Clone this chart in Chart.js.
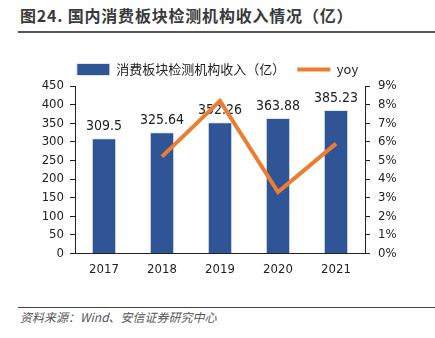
<!DOCTYPE html>
<html lang="zh">
<head>
<meta charset="UTF-8">
<title>国内消费板块检测机构收入情况</title>
<style>
  body { margin: 0; width: 435px; height: 338px; background: #fff; font-family: "Noto Sans CJK SC", "DejaVu Sans", sans-serif; position: relative; overflow: hidden; }
  .title { position: absolute; left: 20px; top: 3px; font-size: 16px; font-weight: bold; color: #3a3a3a; letter-spacing: 0.8px; }
  .rule-top { position: absolute; left: 18px; right: 0; top: 31px; border-top: 2px solid #555; }
  .chart-box { position: absolute; left: 0; top: 51px; width: 435px; height: 226px; }
  .rule-bottom { position: absolute; left: 18px; right: 0; top: 307px; border-top: 1px solid #444; }
  .source { position: absolute; left: 20px; top: 308px; font-size: 12px; font-style: italic; color: #555; }
</style>
<script src="https://cdn.jsdelivr.net/npm/chart.js@4"></script>
</head>
<body>
<div class="title">图24. 国内消费板块检测机构收入情况（亿）</div>
<div class="rule-top"></div>
<div class="chart-box"><canvas id="grafica"></canvas></div>
<div class="rule-bottom"></div>
<div class="source">资料来源：Wind、安信证券研究中心</div>
<script>
const years = ['2017', '2018', '2019', '2020', '2021'];
const revenue = [309.5, 325.64, 352.26, 363.88, 385.23];
const revenueLabels = ['309.5', '325.64', '352.26', '363.88', '385.23'];
const yoy = [null, 5.2, 8.2, 3.3, 5.9];

const tickFont = { family: '"DejaVu Sans Condensed", "DejaVu Sans", sans-serif', size: 13 };

const barLabels = {
  id: 'barLabels',
  afterDatasetDraw(chart, args) {
    if (args.index !== 0) return;
    const ctx = chart.ctx;
    ctx.save();
    ctx.font = '14px "DejaVu Sans Condensed", "DejaVu Sans", sans-serif';
    ctx.fillStyle = '#222';
    ctx.textAlign = 'center';
    ctx.textBaseline = 'bottom';
    args.meta.data.forEach((bar, i) => {
      ctx.fillText(revenueLabels[i], bar.x, bar.y - 5);
    });
    ctx.restore();
  }
};

new Chart(document.getElementById('grafica'), {
  data: {
    labels: years,
    datasets: [
      {
        type: 'bar',
        label: '消费板块检测机构收入（亿）',
        data: revenue,
        backgroundColor: '#2F5597',
        borderColor: '#dfe6f0',
        borderWidth: 1,
        barPercentage: 0.42,
        categoryPercentage: 1,
        yAxisID: 'y',
        order: 1,
        pointStyle: 'rect'
      },
      {
        type: 'line',
        label: 'yoy',
        data: yoy,
        borderColor: '#ED7D31',
        backgroundColor: '#ED7D31',
        borderWidth: 4,
        pointRadius: 0,
        tension: 0,
        spanGaps: false,
        yAxisID: 'y1',
        order: 0,
        pointStyle: 'line'
      }
    ]
  },
  options: {
    responsive: true,
    maintainAspectRatio: false,
    animation: false,
    layout: { padding: { left: 0, right: 0, top: 0, bottom: 0 } },
    plugins: {
      legend: {
        position: 'top',
        labels: {
          usePointStyle: true,
          pointStyleWidth: 33,
          boxHeight: 12,
          padding: 12,
          color: '#222',
          font: { family: '"Noto Sans CJK SC", sans-serif', size: 13 },
          sort: (a, b) => a.datasetIndex - b.datasetIndex
        }
      },
      tooltip: { enabled: false }
    },
    scales: {
      x: {
        grid: { display: false },
        border: { color: '#222', width: 1 },
        ticks: { color: '#222', font: tickFont, padding: 0 }
      },
      y: {
        position: 'left',
        min: 0,
        max: 450,
        ticks: { stepSize: 50, autoSkip: false, color: '#222', font: tickFont, padding: 6 },
        grid: { drawOnChartArea: false, tickLength: 5, tickColor: '#222' },
        border: { color: '#222', width: 1 },
        afterFit(scale) { scale.width = 75; }
      },
      y1: {
        position: 'right',
        min: 0,
        max: 9,
        ticks: { stepSize: 1, autoSkip: false, color: '#222', font: tickFont, padding: 8, callback: v => v + '%' },
        grid: { drawOnChartArea: false, tickLength: 5, tickColor: '#222' },
        border: { color: '#222', width: 1 },
        afterFit(scale) { scale.width = 70; }
      }
    }
  },
  plugins: [barLabels]
});
</script>
</body>
</html>
